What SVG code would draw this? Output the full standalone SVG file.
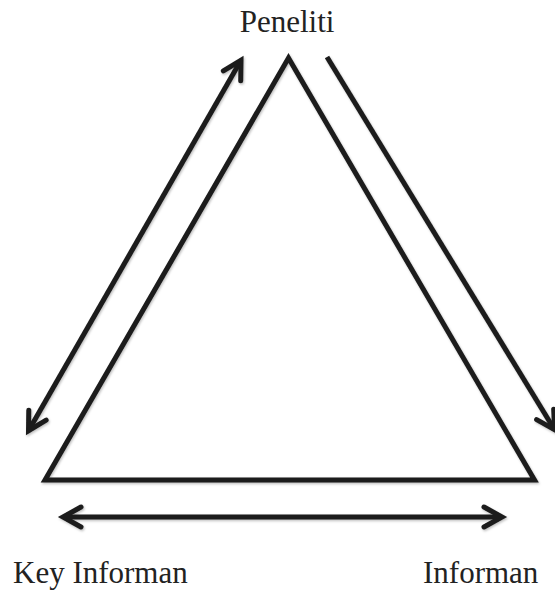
<svg xmlns="http://www.w3.org/2000/svg" width="555" height="591" viewBox="0 0 555 591">
  <defs>
    <filter id="sh" x="-10%" y="-10%" width="120%" height="120%">
      <feDropShadow dx="1" dy="1.5" stdDeviation="1" flood-color="#000" flood-opacity="0.25"/>
    </filter>
    <marker id="ah" viewBox="0 0 24 24" markerUnits="userSpaceOnUse" markerWidth="24" markerHeight="24" refX="20" refY="12" orient="auto-start-reverse" overflow="visible">
      <path d="M4,2 L22,12 L4,22" fill="none" stroke="#1c1c1c" stroke-width="5" stroke-linecap="round" stroke-linejoin="miter"/>
    </marker>
    <style>
      .lbl { font-family: "Liberation Serif", "Times New Roman", serif; font-size: 31px; fill: #222; }
      .edge { fill: none; stroke: #1c1c1c; stroke-width: 5; stroke-linecap: butt; }
    </style>
  </defs>
  <rect width="555" height="591" fill="#fff"/>

  <g id="triangle" filter="url(#sh)">
    <polygon points="288.5,58 45,480 534.5,480" fill="none" stroke="#1c1c1c" stroke-width="5" stroke-linejoin="miter"/>
  </g>

  <g id="peneliti">
    <text class="lbl" x="287" y="32" text-anchor="middle">Peneliti</text>
  </g>
  <g id="key-informan">
    <text class="lbl" x="13" y="583">Key Informan</text>
  </g>
  <g id="informan">
    <text class="lbl" x="423" y="583">Informan</text>
  </g>

  <g id="connectors" filter="url(#sh)">
    <line class="edge" x1="240" y1="62" x2="29.5" y2="429" marker-start="url(#ah)" marker-end="url(#ah)"/>
    <line class="edge" x1="327" y1="57" x2="553.5" y2="428" marker-end="url(#ah)"/>
    <line class="edge" x1="65" y1="517" x2="500" y2="517" marker-start="url(#ah)" marker-end="url(#ah)"/>
  </g>
</svg>
